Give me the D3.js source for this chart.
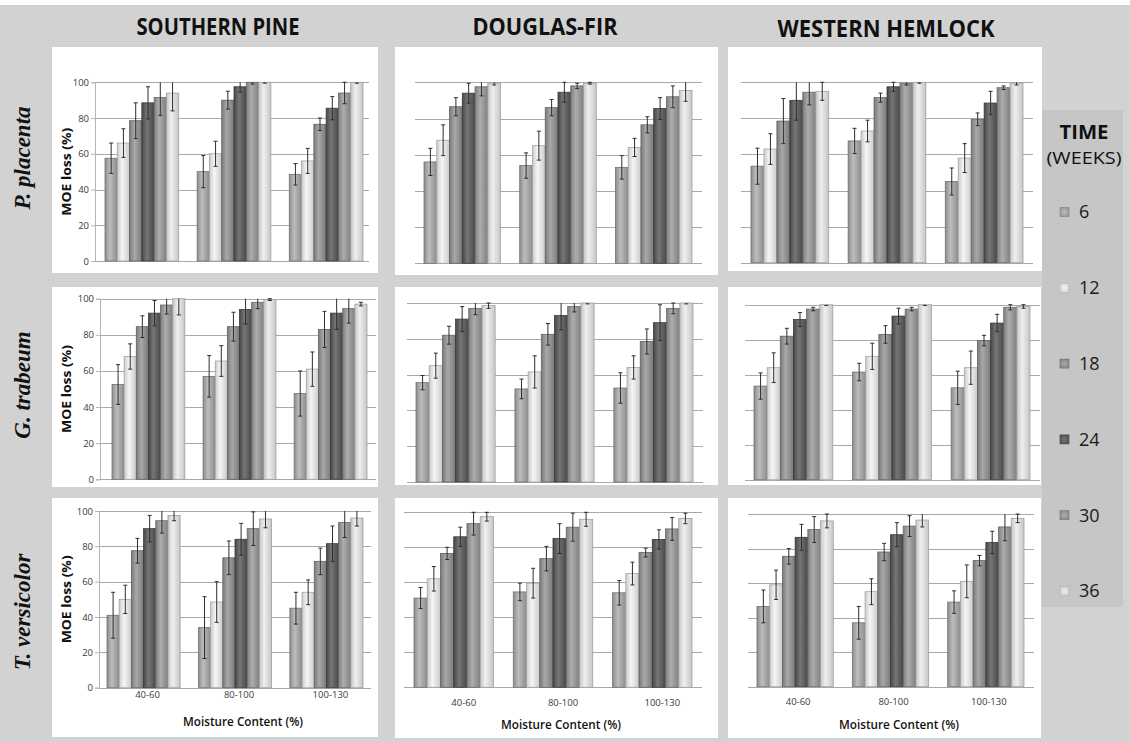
<!DOCTYPE html>
<html>
<head>
<meta charset="utf-8">
<script src="https://cdn.jsdelivr.net/npm/d3@7/dist/d3.min.js"></script>
<style>
  html, body { margin: 0; padding: 0; background: #ffffff; }
  svg { display: block; }
</style>
</head>
<body>
<script>
// ---- categories and labels ----
const species = ["SOUTHERN PINE", "DOUGLAS-FIR", "WESTERN HEMLOCK"];
const fungi = ["P. placenta", "G. trabeum", "T. versicolor"];
const moistureRanges = ["40-60", "80-100", "100-130"];
const weeks = ["6", "12", "18", "24", "30", "36"];
const yTicks = [0, 20, 40, 60, 80, 100];

// ---- MOE loss (%) means: one row per moisture range, one value per week ----
const placentaPine    = [[57.5, 66, 78.5, 88.5, 91.5, 94], [50, 60, 90, 97.5, 100, 100], [48.5, 56, 76.5, 85.5, 94, 100]];
const placentaFir     = [[56, 68, 86.5, 94, 97.5, 99.5], [54, 65, 86, 94.5, 98, 99.5], [53, 64, 76.5, 85.5, 92, 95.5]];
const placentaHemlock = [[53.5, 63, 78.5, 90, 94.5, 95], [67.5, 73, 91.5, 97.5, 99.5, 100], [45, 58, 79.5, 88.5, 97, 99.5]];
const trabeumPine     = [[52.5, 68, 84.5, 92, 96.5, 100], [57, 65.5, 84.5, 94, 98, 99.5], [47.5, 61, 83, 92, 94.5, 97]];
const trabeumFir      = [[55.5, 65, 82, 91, 97, 98.5], [52, 61.5, 82.5, 93, 98, 100], [52.5, 64, 78.5, 89, 97, 100]];
const trabeumHemlock  = [[53.5, 64, 82, 91.5, 97.5, 100], [61.5, 70.5, 83, 93.5, 97.5, 100], [52.5, 64, 79.5, 89.5, 98.5, 99]];
const versicolorPine    = [[41, 50, 77.5, 90, 94.5, 97.5], [34, 48.5, 73.5, 84, 90, 95.5], [45, 54, 71.5, 81.5, 93.5, 96]];
const versicolorFir     = [[51, 62, 76.5, 86, 93.5, 97.5], [54.5, 59.5, 73.5, 85, 91.5, 96], [54, 65, 77, 84.5, 90.5, 96.5]];
const versicolorHemlock = [[46.5, 59, 75.5, 86.5, 91, 96], [37, 55, 78, 88, 93, 96.5], [49, 61, 73, 83.5, 92.5, 97.5]];

// ---- error bar half-widths (%), same shape as the means ----
const placentaPineErr    = [[8.5, 8, 10, 9, 10, 10], [9, 7, 5, 3, 1, 0.5], [6, 7, 3.5, 6.5, 6, 0.5]];
const placentaFirErr     = [[7.5, 8.5, 5, 5.5, 5, 1], [7, 8, 4.5, 5.5, 1.5, 0.5], [6.5, 5, 4.5, 6, 6, 6]];
const placentaHemlockErr = [[10, 8.5, 12.5, 11, 7, 5], [7, 6, 2.5, 2.5, 1, 0.5], [7.5, 8, 3.5, 6.5, 1, 1]];
const trabeumPineErr     = [[11, 7, 6, 7, 5, 9], [11.5, 8.5, 8, 8, 3.5, 0.5], [12.5, 9.5, 10, 9, 8, 1]];
const trabeumFirErr      = [[4, 7, 5, 7, 3.5, 1.5], [5.5, 9, 6, 8, 3, 0.5], [8.5, 6.5, 7, 10, 3, 0.5]];
const trabeumHemlockErr  = [[7.5, 8.5, 4.5, 4, 1, 0.5], [5, 7.5, 5, 4.5, 1, 0.5], [9.5, 9.5, 3, 5, 1.5, 1]];
const versicolorPineErr    = [[13, 8, 7, 7.5, 7, 3], [17.5, 11.5, 9.5, 9, 9.5, 5], [9, 7, 7.5, 10, 8.5, 4.5]];
const versicolorFirErr     = [[6, 7, 3.5, 5.5, 6.5, 2.5], [5, 8.5, 7, 8.5, 8, 4], [7, 6.5, 2.5, 5.5, 6.5, 3]];
const versicolorHemlockErr = [[9.5, 8.5, 4.5, 7.5, 7.5, 4], [9.5, 7.5, 5, 7, 6, 4], [6.5, 9.5, 3, 6.5, 8, 2.5]];

// grid of panels: rows = fungus, columns = wood species
const panelMeans = [
  [placentaPine, placentaFir, placentaHemlock],
  [trabeumPine, trabeumFir, trabeumHemlock],
  [versicolorPine, versicolorFir, versicolorHemlock]
];
const panelErrors = [
  [placentaPineErr, placentaFirErr, placentaHemlockErr],
  [trabeumPineErr, trabeumFirErr, trabeumHemlockErr],
  [versicolorPineErr, versicolorFirErr, versicolorHemlockErr]
];

// ---- page geometry (pixels) ----
// box: white card; grid: gridline extent; bars: first/last bar edge; y: [baseline, 100% line]
const panelGeometry = [
  [
    { box: [52, 47, 378, 273], grid: [95, 369], bars: [105, 363], y: [261, 82.3] },
    { box: [395, 47, 718, 275], grid: [415, 702], bars: [424, 692], y: [263.3, 82.3] },
    { box: [728, 47, 1042, 271], grid: [741, 1033], bars: [751, 1023], y: [262.7, 82.3] }
  ],
  [
    { box: [52, 287, 378, 487], grid: [100, 376], bars: [112, 367], y: [479.3, 298.7] },
    { box: [395, 287, 718, 485], grid: [407, 703], bars: [416, 693], y: [482, 303] },
    { box: [728, 287, 1041, 485], grid: [745, 1040], bars: [754, 1030], y: [479.7, 304.7] }
  ],
  [
    { box: [52, 498, 378, 737], grid: [99, 371], bars: [107, 363], y: [687.7, 511], catY: 695, titleY: 722, catDx: 4 },
    { box: [395, 498, 718, 738], grid: [404, 702], bars: [414, 692], y: [687.3, 512.3], catY: 703, titleY: 725, catDx: 10 },
    { box: [728, 498, 1041, 738], grid: [748, 1034], bars: [757, 1024], y: [686.7, 514], catY: 702, titleY: 725, catDx: 3 }
  ]
];
const headerX = [218, 545, 886];
const headerY = [35, 35, 37];
const headerWidth = [163, 145, 217];
const rowLabelY = [158, 385, 612];

// bar shading per week: [edge, highlight]
const seriesShades = [
  ["#8d8d8d", "#bdbdbd"],
  ["#cbcbcb", "#f5f5f5"],
  ["#7a7a7a", "#a8a8a8"],
  ["#484848", "#767676"],
  ["#808080", "#adadad"],
  ["#c6c6c6", "#efefef"]
];

const W = 1130, H = 742;
const svg = d3.select("body").append("svg").attr("width", W).attr("height", H);
const defs = svg.append("defs");

seriesShades.forEach((s, i) => {
  const g = defs.append("linearGradient").attr("id", "shade" + i)
    .attr("x1", "0").attr("x2", "1").attr("y1", "0").attr("y2", "0");
  g.append("stop").attr("offset", "0%").attr("stop-color", s[0]);
  g.append("stop").attr("offset", "40%").attr("stop-color", s[1]);
  g.append("stop").attr("offset", "100%").attr("stop-color", s[0]);
  const gv = defs.append("radialGradient").attr("id", "swatch" + i).attr("r", "0.75");
  gv.append("stop").attr("offset", "0%").attr("stop-color", s[1]);
  gv.append("stop").attr("offset", "100%").attr("stop-color", s[0]);
});

// page background
svg.append("rect").attr("x", 0).attr("y", 5).attr("width", W).attr("height", H - 5).attr("fill", "#d2d2d2");
// legend column
svg.append("rect").attr("x", 1042).attr("y", 110).attr("width", 81).attr("height", 497).attr("fill", "#c6c6c6");

const font = "'Open Sans', 'Noto Sans', sans-serif";

// column headers
species.forEach((name, c) => {
  svg.append("text")
    .attr("x", headerX[c]).attr("y", headerY[c])
    .attr("text-anchor", "middle")
    .attr("font-family", font).attr("font-weight", 700).attr("font-size", 23)
    .attr("textLength", headerWidth[c]).attr("lengthAdjust", "spacingAndGlyphs")
    .attr("fill", "#111").text(name);
});

// row labels (fungus species)
fungi.forEach((name, r) => {
  svg.append("text")
    .attr("transform", `translate(30,${rowLabelY[r]}) rotate(-90)`)
    .attr("text-anchor", "middle")
    .attr("font-family", "'Liberation Serif', 'DejaVu Serif', serif")
    .attr("font-style", "italic").attr("font-weight", 700).attr("font-size", 23)
    .attr("fill", "#111").text(name);
});

// panels
panelGeometry.forEach((row, r) => {
  row.forEach((geo, c) => {
    const means = panelMeans[r][c];
    const errs = panelErrors[r][c];
    const g = svg.append("g");
    const [bx0, by0, bx1, by1] = geo.box;
    g.append("rect").attr("x", bx0).attr("y", by0).attr("width", bx1 - bx0).attr("height", by1 - by0).attr("fill", "#ffffff");

    const y = d3.scaleLinear().domain([0, 100]).range(geo.y);
    const x = d3.scaleBand().domain(moistureRanges).range(geo.bars).paddingInner(0.2).paddingOuter(0);
    const xs = d3.scaleBand().domain(weeks).range([0, x.bandwidth()]).padding(0);

    // horizontal gridlines
    g.append("g").selectAll("line").data(yTicks).join("line")
      .attr("x1", geo.grid[0]).attr("x2", geo.grid[1])
      .attr("y1", d => Math.round(y(d)) + 0.5).attr("y2", d => Math.round(y(d)) + 0.5)
      .attr("stroke", "#a9a9a9").attr("stroke-width", 1);

    // value axis on the first column
    if (c === 0) {
      const axis = d3.axisLeft(y).tickValues(yTicks).tickSize(4).tickPadding(2);
      const ag = g.append("g").attr("transform", `translate(${geo.grid[0]},0)`).call(axis);
      ag.select(".domain").attr("stroke", "#b5b5b5");
      ag.selectAll(".tick line").attr("stroke", "#b5b5b5");
      ag.selectAll("text").attr("font-family", font).attr("font-size", 9.5).attr("fill", "#3a3a3a");
      g.append("text")
        .attr("transform", `translate(${bx0 + 15},${(geo.y[0] + geo.y[1]) / 2}) rotate(-90)`)
        .attr("text-anchor", "middle").attr("dy", "0.35em")
        .attr("font-family", font).attr("font-weight", 700).attr("font-size", 11.5)
        .attr("textLength", 88).attr("lengthAdjust", "spacingAndGlyphs")
        .attr("fill", "#111").text("MOE loss (%)");
    }

    // bars
    const groups = g.append("g").selectAll("g").data(moistureRanges).join("g")
      .attr("transform", d => `translate(${x(d)},0)`);
    groups.each(function (range, gi) {
      const sel = d3.select(this);
      const vals = means[gi].map((v, si) => ({ v, e: errs[gi][si], si }));
      sel.selectAll("rect").data(vals).join("rect")
        .attr("x", d => xs(weeks[d.si]))
        .attr("y", d => y(d.v))
        .attr("width", xs.bandwidth())
        .attr("height", d => y(0) - y(d.v))
        .attr("fill", d => `url(#shade${d.si})`)
        .attr("stroke", d => d3.color(seriesShades[d.si][0]).darker(0.6))
        .attr("stroke-width", 0.8);

      // error bars, clipped to the 0-100 range of the value axis
      vals.forEach(d => {
        const cx = xs(weeks[d.si]) + xs.bandwidth() / 2;
        const hi = Math.min(100, d.v + d.e), lo = Math.max(0, d.v - d.e);
        const eg = sel.append("g").attr("stroke", "#2e2e2e").attr("stroke-width", 1);
        eg.append("line").attr("x1", cx).attr("x2", cx).attr("y1", y(hi)).attr("y2", y(lo));
        if (d.v + d.e <= 100) eg.append("line").attr("x1", cx - 2).attr("x2", cx + 2).attr("y1", y(hi)).attr("y2", y(hi));
        eg.append("line").attr("x1", cx - 2).attr("x2", cx + 2).attr("y1", y(lo)).attr("y2", y(lo));
      });
    });

    // category axis on the bottom row
    if (r === 2) {
      g.append("g").selectAll("text").data(moistureRanges).join("text")
        .attr("x", d => x(d) + x.bandwidth() / 2 + geo.catDx)
        .attr("y", geo.catY).attr("dy", "0.35em")
        .attr("text-anchor", "middle")
        .attr("font-family", font).attr("font-size", 9.5).attr("fill", "#3a3a3a")
        .text(d => d);
      g.append("text")
        .attr("x", (geo.grid[0] + geo.grid[1]) / 2 + 8).attr("y", geo.titleY).attr("dy", "0.35em")
        .attr("text-anchor", "middle")
        .attr("font-family", font).attr("font-weight", 600).attr("font-size", 12.5)
        .attr("textLength", 120).attr("lengthAdjust", "spacingAndGlyphs")
        .attr("fill", "#111").text("Moisture Content (%)");
    }
  });
});

// legend
const legendY = d3.scalePoint().domain(weeks).range([212, 591]);
svg.append("text").attr("x", 1084).attr("y", 132).attr("dy", "0.35em").attr("text-anchor", "middle")
  .attr("font-family", font).attr("font-weight", 700).attr("font-size", 19)
  .attr("textLength", 49).attr("lengthAdjust", "spacingAndGlyphs")
  .attr("fill", "#111").text("TIME");
svg.append("text").attr("x", 1084).attr("y", 158).attr("dy", "0.35em").attr("text-anchor", "middle")
  .attr("font-family", font).attr("font-size", 16)
  .attr("textLength", 75).attr("lengthAdjust", "spacingAndGlyphs")
  .attr("fill", "#111").text("(WEEKS)");
const items = svg.append("g").selectAll("g").data(weeks).join("g")
  .attr("transform", d => `translate(0,${legendY(d)})`);
items.append("rect").attr("x", 1060).attr("y", -4.5).attr("width", 9).attr("height", 9)
  .attr("fill", (d, i) => `url(#swatch${i})`)
  .attr("stroke", (d, i) => d3.color(seriesShades[i][0]).darker(0.3)).attr("stroke-width", 0.6);
items.append("text").attr("x", 1079).attr("y", 0).attr("dy", "0.35em")
  .attr("font-family", font).attr("font-size", 18).attr("fill", "#1a1a1a")
  .text(d => d);
</script>
</body>
</html>
